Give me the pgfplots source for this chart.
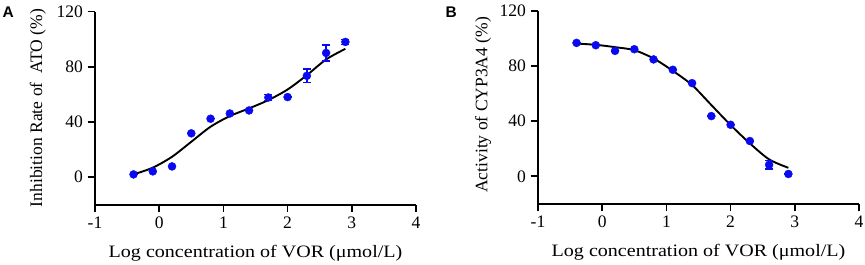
\documentclass[border=0pt]{standalone}
\usepackage{pgfplots}
\pgfplotsset{compat=1.18}
\usepackage{fontspec}
\setmainfont{Liberation Serif}
\newfontfamily\xlabfont[FakeStretch=1.15]{Liberation Serif}
\newfontfamily\panelfont{Liberation Sans}
\definecolor{dotblue}{RGB}{10,10,240}
\pgfplotsset{
  gp/.style={
    scale only axis, width=321bp, height=193bp,
    xmin=-1, xmax=4, ymin=-20, ymax=120,
    axis lines=left,
    axis line style={-, line width=2.1bp, black},
    xtick={-1,0,1,2,3,4}, xticklabels={-1,0,1,2,3,4},
    ytick={0,40,80,120}, yticklabels={0,40,80,120},
    tick align=outside, major tick length=7.5bp,
    tick style={line width=1.7bp, black},
    ticklabel style={font=\fontsize{17.6}{20}\selectfont},
    xticklabel style={yshift=-1bp},
    yticklabel style={xshift=-1bp},
    xlabel style={font=\fontsize{17.5}{20}\xlabfont, at={(axis description cs:0.5,-0.25)}, anchor=center},
    ylabel style={font=\fontsize{17.6}{20}\selectfont, anchor=center},
    clip=false,
  },
  fit/.style={black, line width=1.9bp, smooth, no marks},
  pts/.style={only marks, mark=*, mark size=4bp, dotblue, mark options={draw=dotblue, fill=dotblue},
    error bars/.cd, y dir=both, y explicit, error bar style={line width=1.3bp, dotblue},
    error mark options={rotate=90, mark size=4bp, line width=1.3bp, dotblue}},
}
\begin{document}
\begin{tikzpicture}[x=1bp,y=1bp]
\useasboundingbox (0,0) rectangle (865,264);
\node[anchor=base west, inner sep=0, font=\fontsize{15.5}{18}\panelfont\bfseries] at (2.5,246.7) {A};
\node[anchor=base west, inner sep=0, font=\fontsize{15.5}{18}\panelfont\bfseries] at (445.5,246.7) {B};
\begin{axis}[gp, at={(95bp,59.4bp)}, anchor=south west,
  xlabel={Log concentration of VOR (μmol/L)},
  ylabel={Inhibition Rate of\ \ ATO (\%)},
  ylabel style={at={(axis description cs:-0.178,0.5)}}]
\addplot[fit] coordinates {
(-0.4,1.9) (-0.1,6.8) (0.2,14.7) (0.5,25.6) (0.8,36.5) (1.1,44.2) (1.4,49.8)
(1.7,55.8) (2.0,63.5) (2.3,73.9) (2.6,85.3) (2.9,93.0)};
\addplot[pts] coordinates {
(-0.4,1.9) +- (0,0)
(-0.1,4.1) +- (0,0)
(0.2,7.7) +- (0,0)
(0.5,31.7) +- (0,0)
(0.8,42.3) +- (0,0)
(1.1,46.1) +- (0,0)
(1.4,48.3) +- (0,0)
(1.7,57.7) +- (0,2.4)
(2.0,58.0) +- (0,0)
(2.3,73.4) +- (0,5.0)
(2.6,90.0) +- (0,5.8)
(2.9,98.0) +- (0,1.8)};
\end{axis}
\begin{axis}[gp, at={(538bp,60.1bp)}, anchor=south west,
  xlabel={Log concentration of VOR (μmol/L)},
  ylabel={Activity of CYP3A4 (\%)},
  ylabel style={at={(axis description cs:-0.171,0.513)}}]
\addplot[fit] coordinates {
(-0.4,96.3) (-0.1,95.4) (0.2,93.7) (0.5,91.5) (0.8,85.5) (1.1,76.5) (1.4,66.2)
(1.7,51.7) (2.0,37.2) (2.3,23.9) (2.6,12.3) (2.9,6.2)};
\addplot[pts] coordinates {
(-0.4,96.8) +- (0,0)
(-0.1,95.1) +- (0,0)
(0.2,91.0) +- (0,0)
(0.5,92.2) +- (0,0)
(0.8,84.8) +- (0,0)
(1.1,77.3) +- (0,0)
(1.4,67.6) +- (0,0)
(1.7,43.7) +- (0,0)
(2.0,37.4) +- (0,0)
(2.3,25.6) +- (0,0)
(2.6,8.4) +- (0,3.0)
(2.9,1.7) +- (0,0)};
\end{axis}
\end{tikzpicture}
\end{document}
